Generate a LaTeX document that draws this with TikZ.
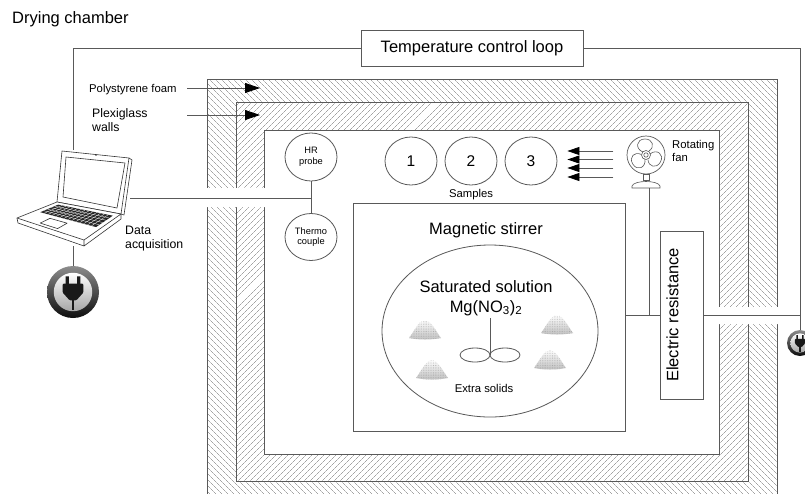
\documentclass[tikz,border=0pt]{standalone}
\usepackage{fontspec}
\setmainfont{Liberation Sans}
\usetikzlibrary{arrows.meta,patterns.meta,shapes.geometric}

\tikzset{
  plugicon/.pic={
    \shade[top color=black!45,bottom color=black!95] (0,0) circle (1);
    \shade[top color=white,bottom color=black!35] (0,0) circle (0.74);
    \fill[black!90] (-0.28,-0.6) rectangle (-0.16,-0.3) (0.16,-0.6) rectangle (0.28,-0.3);
    \fill[black!90,rounded corners=1pt] (-0.4,-0.32) -- (0.4,-0.32) -- (0.4,0.02)
      -- (0.13,0.32) -- (-0.13,0.32) -- (-0.4,0.02) -- cycle;
    \fill[black!90] (-0.05,0.3) rectangle (0.05,0.7);
  },
  pile/.pic={
    \path[top color=white,bottom color=black!25,
      postaction={pattern={Dots[radius=0.3pt,distance=1.7pt]},pattern color=black!40}]
      (-16,0) .. controls (-12,-5) and (-6,-18) .. (0,-18)
      .. controls (6,-18) and (12,-5) .. (16,0)
      .. controls (6,2) and (-6,2) .. (-16,0) -- cycle;
  }
}
% point on the laptop deck, s across and t from front to back
\def\lp#1#2{({(1-(#2))*(17+67*(#1))+(#2)*(57+64*(#1))},{(1-(#2))*(218+22*(#1))+(#2)*(202+12*(#1))})}

\begin{document}
\begin{tikzpicture}[x=1pt,y=-1pt,
  every node/.style={inner sep=0pt},
  wire/.style={draw=black!65,line width=0.8pt},
  box/.style={draw=black!65,line width=0.8pt,fill=white},
  disc/.style={draw=black!65,line width=0.8pt,ellipse,minimum width=52pt,minimum height=48pt,align=center},
  bigtext/.style={font=\fontsize{16.5}{20}\selectfont},
  midtext/.style={font=\fontsize{12.3}{14}\selectfont,align=left},
  smalltext/.style={font=\fontsize{11.3}{13}\selectfont,align=left},
  tinytext/.style={font=\fontsize{9.3}{10.5}\selectfont},
  hatch/.style={pattern={Lines[angle=#1,distance=4pt,line width=0.35pt]},pattern color=black!55},
  wallarrow/.style={wire,-{Triangle[length=15pt,width=10pt,color=black]}},
  airflow/.style={wire,-{Triangle[length=12pt,width=8pt,color=black]}}]
  \useasboundingbox (0,0) rectangle (805,493);
  \clip (0,0) rectangle (805,493);

  % walls: polystyrene outside, plexiglass inside
  \fill[hatch=-45] (207,79) rectangle (777,520);
  \fill[white] (236,102) rectangle (748,481);
  \fill[hatch=45] (236,102) rectangle (748,481);
  \fill[white] (264,130) rectangle (719,454);
  \draw[draw=black!65,line width=0.7pt] (207,79) rectangle (777,520) (236,102) rectangle (748,481) (264,130) rectangle (719,454);
  \fill[white] (205,188) rectangle (266,207) (717,307) rectangle (779,324);

  \node[bigtext,anchor=base west] (title) at (12,23) {Drying chamber};
  \node[box,bigtext,minimum width=222pt,minimum height=36pt] (loop) at (472,48) {Temperature control loop};

  \node[smalltext,anchor=base west] (foam) at (89,92.5) {Polystyrene foam};
  \node[midtext,anchor=west] (plexi) at (92,120) {Plexiglass\\walls};
  \coordinate (foamtail) at (187,88);  \coordinate (foamtip) at (260,88);
  \coordinate (plexitail) at (187,115); \coordinate (plexitip) at (260,115);
  \draw[wallarrow] (foamtail) -- (foamtip);
  \draw[wallarrow] (plexitail) -- (plexitip);

  % laptop
  \node[minimum width=114pt,minimum height=96pt] (laptop) at (73,198) {};
  \begin{scope}[black!80,line width=0.6pt,line join=round]
    \draw[fill=white] (57,202) -- (62,151) -- (129,158) -- (121,214) -- cycle;
    \draw (129,158) -- (132,160) -- (124,215) -- (121,214);
    \draw (63,197) -- (66,157) -- (125,163) -- (117,208) -- cycle;
    \fill (96,155) circle (0.9);
    \draw[fill=white] \lp{0}{0} -- \lp{1}{0} -- \lp{1}{1} -- \lp{0}{1} -- cycle;
    \draw (17,218) -- (18,223) -- (84,246) -- (121,219) -- (121,214) (84,240) -- (84,246);
    \fill[black!85] \lp{0.08}{0.45} -- \lp{0.93}{0.45} -- \lp{0.93}{0.9} -- \lp{0.08}{0.9} -- cycle;
    \foreach \t in {0.54,0.63,0.72,0.81}
      \draw[white,line width=0.3pt] \lp{0.08}{\t} -- \lp{0.93}{\t};
    \foreach \s in {0.14,0.2,...,0.89}
      \draw[white,line width=0.3pt] \lp{\s}{0.45} -- \lp{\s}{0.9};
    \draw \lp{0.3}{0.08} -- \lp{0.56}{0.08} -- \lp{0.56}{0.33} -- \lp{0.3}{0.33} -- cycle;
  \end{scope}
  \node[midtext,anchor=west] (daq) at (125,238.5) {Data\\acquisition};

  \node[circle,minimum size=52pt] (plugL) at (73,292) {};
  \pic[scale=26] at (plugL) {plugicon};
  \node[circle,minimum size=26pt] (plugR) at (800,343) {};
  \pic[scale=13] at (plugR) {plugicon};

  % probes and samples
  \node[disc,tinytext] (hr) at (311,157) {HR\\probe};
  \node[disc,tinytext,minimum height=47pt] (tc) at (311,237) {Thermo\\couple};
  \foreach \n [count=\i] in {1,2,3}
    \node[disc,font=\fontsize{15.5}{18}\selectfont] (s\n) at (351+60*\i,161) {\n};
  \node[smalltext] (samples) at (471,195) {Samples};
  \foreach \dy in {10,1.5,-7,-16}
    \draw[airflow] ([xshift=56pt,yshift=\dy pt]s3.east) -- ([xshift=10pt,yshift=\dy pt]s3.east);

  % fan on its stand
  \node[circle,draw=black!65,line width=0.7pt,minimum size=38pt] (fan) at (646,155) {};
  \begin{scope}[shift={(fan.center)},draw=black!65,line width=0.6pt]
    \foreach \a in {0,120,240}
      \draw[rotate=\a] (-3,-3) .. controls (-11,-6) and (-10,-16) .. (-1,-16)
        .. controls (7,-16) and (9,-8) .. (3,-4);
    \draw (0,0) circle (4.5) (0,0) circle (2.2);
    \draw (-3,19) rectangle (3,25);
    \draw (-14,33) -- (-14,31) .. controls (-12,25) and (12,25) .. (14,31) -- (14,33) -- cycle;
    \coordinate (fanfoot) at (3,33);
  \end{scope}
  \node[smalltext,anchor=west] (fanlabel) at (672,150.5) {Rotating\\fan};

  % magnetic stirrer with the salt solution
  \node[box,minimum width=272pt,minimum height=228pt] (stirrer) at (489,317) {};
  \node[bigtext] (stirlabel) at (486,230) {Magnetic stirrer};
  \node[draw=black!65,line width=0.8pt,ellipse,minimum width=216pt,minimum height=172pt] (beaker) at (490,331) {};
  \node[bigtext,align=center] (solution) at (486,298) {Saturated solution\\Mg(NO\textsubscript{3})\textsubscript{2}};
  \foreach \x/\y in {425/338,557/333,432/378,550/368}
    \pic at (\x,\y) {pile};
  \coordinate (bar) at (490,355);
  \draw[wire] (490,318) -- (bar);
  \draw[wire] (475,355) ellipse (15 and 7) (505,355) ellipse (15 and 7);
  \node[smalltext] (solids) at (484,388) {Extra solids};

  \node[box,minimum width=43pt,minimum height=168pt] (heater) at (681.5,315) {};
  \node[bigtext,rotate=90] (heaterlabel) at (672.5,315) {Electric resistance};

  % wiring
  \draw[wire] (laptop.north) |- (loop.west);
  \draw[wire] (loop.east) -| (plugR.north);
  \draw[wire] (laptop.south) -- (plugL.north);
  \coordinate (tap) at (hr.south |- laptop.east);
  \draw[wire] (laptop.east) -- (tap);
  \draw[wire] (hr) -- (tc);
  \draw[wire] (stirrer.east |- heater.west) -- (heater.west);
  \draw[wire] (fanfoot) -- (fanfoot |- heater.west);
  \draw[wire] (heater.east) -- (heater.east -| plugR);
\end{tikzpicture}
\end{document}
